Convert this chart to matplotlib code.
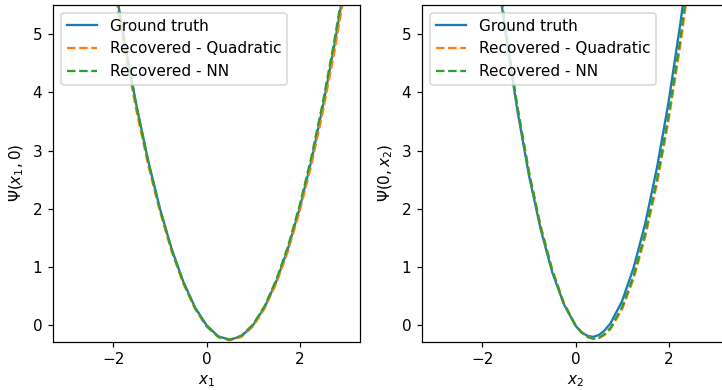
"""Ground truth vs recovered potential, two 1-D slices."""

import matplotlib
matplotlib.use('Agg')
import matplotlib.pyplot as plt

# slice along x1 (x2 = 0)
x1 = [-2.0, -1.75, -1.5, -1.25, -1.0, -0.75, -0.5, -0.25, 0.0, 0.25, 0.5,
      0.75, 1.0, 1.25, 1.5, 1.75, 2.0, 2.25, 2.5, 2.75, 3.0]
truth_x1 = [6.0, 4.81, 3.75, 2.81, 2.0, 1.31, 0.75, 0.31, 0.0, -0.19, -0.25,
            -0.19, 0.0, 0.31, 0.75, 1.31, 2.0, 2.81, 3.75, 4.81, 6.0]
quad_x1 = [5.87, 4.70, 3.66, 2.74, 1.95, 1.27, 0.72, 0.29, -0.02, -0.20, -0.26,
           -0.20, -0.02, 0.29, 0.72, 1.27, 1.95, 2.74, 3.66, 4.70, 5.87]
nn_x1 = [5.98, 4.80, 3.74, 2.80, 1.99, 1.30, 0.74, 0.30, -0.01, -0.20, -0.25,
         -0.18, 0.01, 0.33, 0.78, 1.35, 2.05, 2.87, 3.82, 4.89, 6.09]

# slice along x2 (x1 = 0)
x2 = [-2.0, -1.75, -1.5, -1.25, -1.0, -0.75, -0.5, -0.25, 0.0, 0.125, 0.25,
      0.375, 0.5, 0.625, 0.75, 1.0, 1.25, 1.5, 1.75, 2.0, 2.25, 2.5]
truth_x2 = [8.15, 6.48, 4.99, 3.69, 2.57, 1.65, 0.91, 0.36, -0.01, -0.12, -0.18,
            -0.20, -0.17, -0.09, 0.03, 0.41, 0.99, 1.75, 2.70, 3.83, 5.16, 6.67]
quad_x2 = [8.25, 6.56, 5.06, 3.76, 2.63, 1.70, 0.95, 0.38, 0.00, -0.11, -0.19,
           -0.23, -0.22, -0.17, -0.07, 0.27, 0.80, 1.52, 2.42, 3.51, 4.79, 6.26]
nn_x2 = [8.24, 6.55, 5.05, 3.75, 2.62, 1.69, 0.94, 0.37, 0.00, -0.12, -0.20,
         -0.23, -0.22, -0.15, -0.05, 0.31, 0.85, 1.59, 2.50, 3.61, 4.90, 6.39]

panels = [
    (x1, truth_x1, quad_x1, nn_x1, r'$x_1$', r'$\Psi(x_1, 0)$'),
    (x2, truth_x2, quad_x2, nn_x2, r'$x_2$', r'$\Psi(0, x_2)$'),
]

DPI = 110
fig = plt.figure(figsize=(722 / DPI, 390 / DPI), dpi=DPI)
# right panel runs past the figure edge, as in the cropped original
lefts = [53 / 722, 422 / 722]

for left, (x, truth, quad, nn, xlab, ylab) in zip(lefts, panels):
    ax = fig.add_axes([left, 48.5 / 390, 307 / 722, 336.5 / 390])
    ax.plot(x, truth, color='C0', label='Ground truth')
    ax.plot(x, quad, '--', color='C1', label='Recovered - Quadratic')
    ax.plot(x, nn, '--', color='C2', label='Recovered - NN')
    ax.set_xlim(-3.3, 3.3)
    ax.set_ylim(-0.28, 5.5)
    ax.set_xticks([-2, 0, 2])
    ax.set_xlabel(xlab)
    ax.set_ylabel(ylab)
    ax.legend(loc='upper left')

fig.savefig('out.png', dpi=DPI)
plt.close(fig)
